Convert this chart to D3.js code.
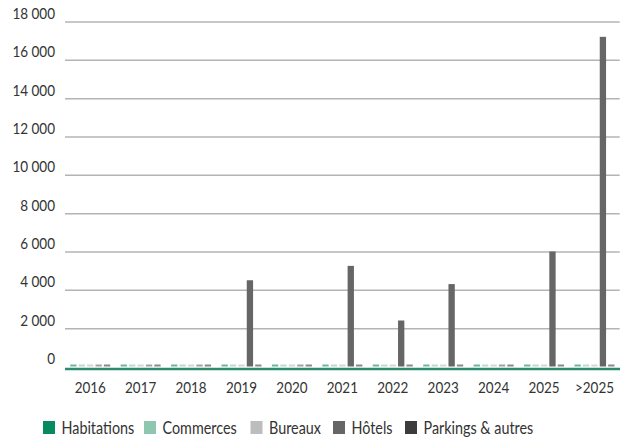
<!DOCTYPE html>
<html>
<head>
<meta charset="utf-8">
<script src="https://cdn.jsdelivr.net/npm/d3@7/dist/d3.min.js"></script>
<style>
  html, body { margin: 0; padding: 0; background: #fff; }
  svg { display: block; font-family: Lato, "Open Sans", sans-serif; }
</style>
</head>
<body>
<svg id="chart" width="621" height="441"></svg>
<script>
// Livraisons par année et par type de surface
const years = ["2016", "2017", "2018", "2019", "2020", "2021", "2022", "2023", "2024", "2025", ">2025"];
const seriesNames = ["Habitations", "Commerces", "Bureaux", "Hôtels", "Parkings & autres"];
const seriesColors = ["#078a5e", "#8ec6b0", "#bdbdbf", "#666666", "#3c3c3c"];
const habitations = [0, 0, 0, 0, 0, 0, 0, 0, 0, 0, 0];
const commerces   = [0, 0, 0, 0, 0, 0, 0, 0, 0, 0, 0];
const bureaux     = [0, 0, 0, 0, 0, 0, 0, 0, 0, 0, 0];
const hotels      = [0, 0, 0, 4500, 0, 5250, 2400, 4300, 0, 6000, 17200];
const parkings    = [0, 0, 0, 0, 0, 0, 0, 0, 0, 0, 0];
const yTicks = [0, 2000, 4000, 6000, 8000, 10000, 12000, 14000, 16000, 18000];

const seriesValues = [habitations, commerces, bureaux, hotels, parkings];

const svg = d3.select("#chart");
const plotLeft = 65, plotRight = 619.7, plotTop = 21.5, plotBottom = 366.5;

const x = d3.scaleBand().domain(years).range([plotLeft, plotRight]).paddingInner(0).paddingOuter(0);
const xInner = d3.scaleBand().domain(seriesNames).range([0, 40]).paddingInner(0.25).paddingOuter(0);
const y = d3.scaleLinear().domain([0, 18000]).range([plotBottom, plotTop]);

const fmt = v => d3.format(",")(v).replace(/,/g, " ");

// Narrow the text a little, keeping its height
function condense(sel, k) {
  sel.each(function () {
    const w = this.getComputedTextLength();
    d3.select(this).attr("textLength", w * k).attr("lengthAdjust", "spacingAndGlyphs");
  });
}

// Horizontal gridlines and value labels
const yAxis = d3.axisLeft(y).tickValues(yTicks).tickSize(0).tickPadding(0).tickFormat(fmt);
const gy = svg.append("g").attr("transform", `translate(${plotLeft},0)`).call(yAxis);
gy.select(".domain").remove();
gy.selectAll(".tick line")
  .attr("x2", d => d === 0 ? 0 : plotRight - plotLeft)
  .attr("stroke", "#b4b4b4").attr("stroke-width", 1.5);
gy.selectAll(".tick text")
  .attr("x", -10).attr("dy", "-0.2em")
  .attr("fill", "#333").attr("font-size", 15).attr("font-family", "Lato, sans-serif")
  .call(condense, 0.9);

// Bars, one group per year
const groups = svg.append("g").selectAll("g").data(years).join("g")
  .attr("transform", d => `translate(${x(d) + (x.bandwidth() - 40) / 2},0)`);

groups.selectAll("rect")
  .data((yr, i) => seriesNames.map((s, k) => ({ s, k, v: seriesValues[k][i] })))
  .join("rect")
  .attr("x", d => xInner(d.s))
  .attr("width", xInner.bandwidth())
  .attr("y", d => d.v > 0 ? y(d.v) : plotBottom - 2)
  .attr("height", d => d.v > 0 ? plotBottom - y(d.v) : 2)
  .attr("fill", d => seriesColors[d.k])
  .attr("fill-opacity", d => d.v > 0 ? 1 : 0.6);

// Category axis
const xAxis = d3.axisBottom(x).tickSize(0).tickPadding(0);
const gx = svg.append("g").attr("transform", `translate(0,${plotBottom + 2.5})`).call(xAxis);
gx.select(".domain").remove();
gx.append("line").attr("x1", plotLeft).attr("x2", 620).attr("y1", 0).attr("y2", 0)
  .attr("stroke", "#2e8a6c").attr("stroke-width", 2.5);
gx.selectAll(".tick text")
  .attr("y", 19).attr("dy", "0.32em")
  .attr("fill", "#333").attr("font-size", 16).attr("font-family", "Lato, sans-serif")
  .call(condense, 0.84);

// Legend
const legendX = [43, 144, 250.5, 333, 405];
const legend = svg.append("g").selectAll("g").data(seriesNames).join("g")
  .attr("transform", (d, i) => `translate(${legendX[i]},421)`);
legend.append("rect").attr("width", 12).attr("height", 13)
  .attr("fill", (d, i) => seriesColors[i]);
legend.append("text").attr("x", 18.5).attr("y", 7).attr("dy", "0.35em")
  .attr("fill", "#333").attr("font-size", 16.5).attr("font-family", "Lato, sans-serif")
  .text(d => d)
  .call(condense, 0.87);
</script>
</body>
</html>
